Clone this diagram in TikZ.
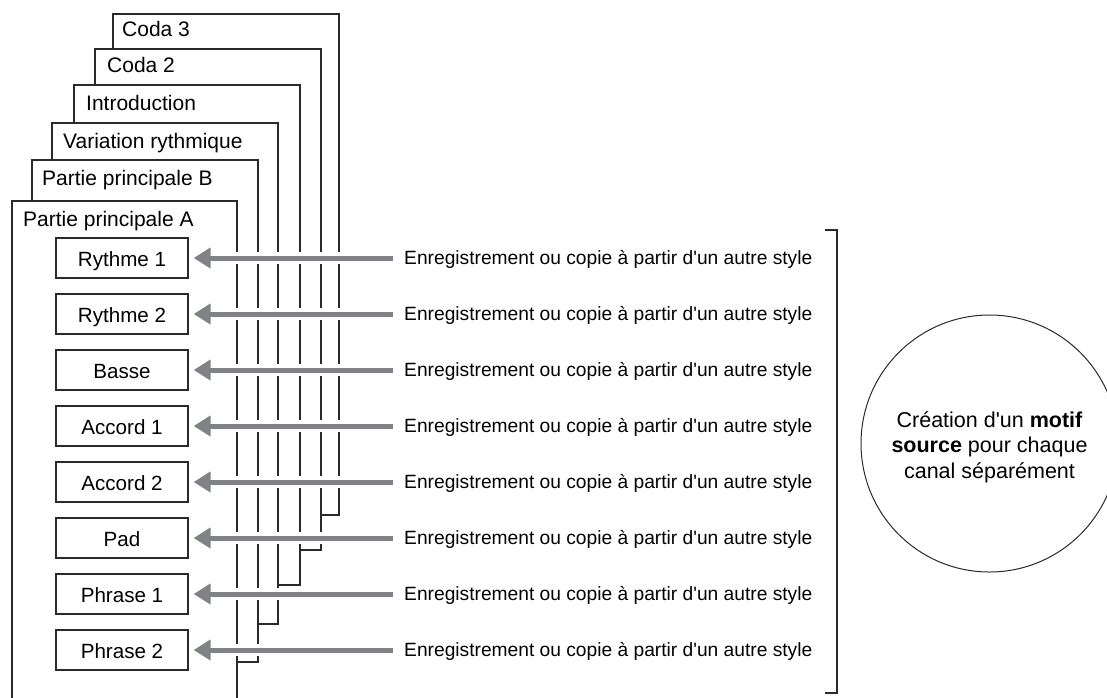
\documentclass[tikz,border=0pt]{standalone}
\usepackage{fontspec}
\setmainfont{Liberation Sans}[Ligatures=TeXOff]
\usetikzlibrary{arrows.meta}
\definecolor{linec}{HTML}{2A2A2A}
\definecolor{arrc}{HTML}{808285}
\begin{document}
\begin{tikzpicture}[x=1pt,y=-1pt,
  card/.style={draw=linec, line width=1.2pt, fill=white},
  cardA/.style={draw=linec, line width=2.8pt, fill=white},
  cardlabel/.style={anchor=base west, inner sep=0pt, font=\fontsize{21}{25}\selectfont},
  chanbox/.style={draw=linec, line width=1.2pt, fill=white, minimum width=132pt, minimum height=40pt,
    inner sep=0pt, text height=17pt, text depth=0pt, font=\fontsize{20.6}{24}\selectfont},
  srctext/.style={anchor=west, inner sep=0pt, text height=13.5pt, text depth=0pt, font=\fontsize{19.2}{23}\selectfont},
  band/.style={draw=white, line width=12pt, shorten <=11pt, shorten >=20pt},
  feed/.style={draw=arrc, line width=5pt, shorten <=11pt, shorten >=5pt, -{Triangle[length=17pt,width=20pt]}},
  bracketline/.style={draw=linec, line width=1.2pt},
  motifcircle/.style={circle, draw=linec, line width=1pt, minimum size=257pt, inner sep=0pt},
  motiftext/.style={align=center, inner sep=0pt, font=\fontsize{21.5}{25.5}\selectfont}
]
\useasboundingbox (0,0) rectangle (1107,697);
\clip (0,0) rectangle (1107,697);

% stacked cards, back to front
\path[card] (113,14) rectangle (339,515);
\node[cardlabel] (lcoda3) at (122,36) {Coda 3};
\path[card] (95,49) rectangle (321,550);
\node[cardlabel] (lcoda2) at (107,72) {Coda 2};
\path[card] (74,85) rectangle (300,585);
\node[cardlabel] (lintro) at (86,110) {Introduction};
\path[card] (52,123) rectangle (278,624);
\node[cardlabel] (lvar) at (63,148) {Variation rythmique};
\path[card] (32,160) rectangle (258,662);
\node[cardlabel] (lmainb) at (42,185) {Partie principale B};
\path[cardA] (12,201) rectangle (237,730);
\node[cardlabel] (lmaina) at (23,226) {Partie principale A};

% channels
\foreach \lab [count=\i from 0] in {Rythme 1,Rythme 2,Basse,Accord 1,Accord 2,Pad,Phrase 1,Phrase 2} {
  \node[chanbox] (ch\i) at (122,258+56*\i) {\lab};
  \node[srctext] (src\i) at (404,258+56*\i) {Enregistrement ou copie à partir d'un autre style};
  \draw[band] (ch\i.east -| src\i.west) -- (ch\i.east);
  \draw[feed] (ch\i.east -| src\i.west) -- (ch\i.east);
}

% bracket
\draw[bracketline] (825,230) -- (837,230) -- (837,693) -- (825,693);

% circle
\node[motifcircle] (motif) at (989.5,443.5) {};
\node[motiftext] (motiftxt) at (989.5,447) {Création d'un \textbf{motif}\\\textbf{source} pour chaque\\canal séparément};
\end{tikzpicture}
\end{document}
